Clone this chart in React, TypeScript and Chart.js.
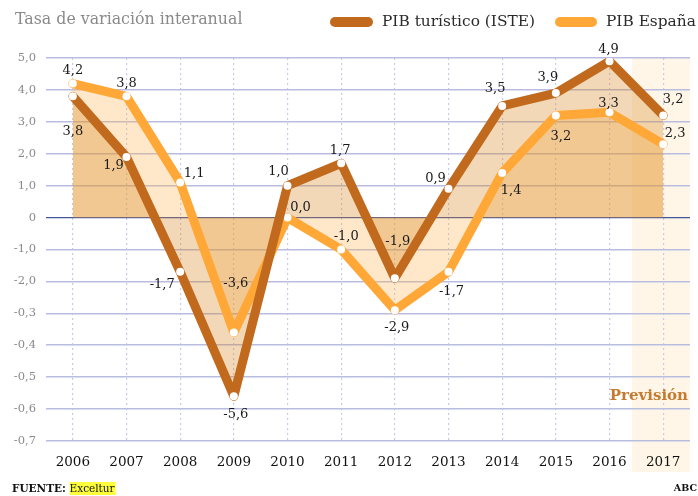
import React, { useEffect, useRef } from "react";
import { Chart, registerables } from "chart.js";

Chart.register(...registerables);

const years = ["2006", "2007", "2008", "2009", "2010", "2011", "2012", "2013", "2014", "2015", "2016", "2017"];
const pibTuristico = [3.8, 1.9, -1.7, -5.6, 1.0, 1.7, -1.9, 0.9, 3.5, 3.9, 4.9, 3.2];
const pibEspana = [4.2, 3.8, 1.1, -3.6, 0.0, -1.0, -2.9, -1.7, 1.4, 3.2, 3.3, 2.3];
const yTickValues = [5, 4, 3, 2, 1, 0, -1, -2, -3, -4, -5, -6, -7];
const yTickLabels = ["5,0", "4,0", "3,0", "2,0", "1,0", "0", "-1,0", "-2,0", "-0,3", "-0,4", "-0,5", "-0,6", "-0,7"];

// label placement offsets (dx, dy) in px, relative to each point
const turLabelOffsets = [[0, 35], [-13, 9], [-18, 13], [2, 18], [-9, -14], [-1, -13], [3, -37], [-13, -10], [-7, -17], [-8, -15], [-1, -12], [10, -16]];
const espLabelOffsets = [[0, -13], [0, -13], [14, -9], [2, -49], [13, -10], [5, -13], [2, 17], [3, 20], [9, 18], [5, 21], [-1, -9], [12, -11]];

const SERIF = '"DejaVu Serif", serif';
const DARK = "#c1691c";
const ORANGE = "#ffa838";

const fmt = (v: number) => v.toFixed(1).replace(".", ",");

const decorPlugin = {
  id: "decor",
  beforeDraw(chart: any) {
    const { ctx, chartArea, scales } = chart;
    const x = scales.x;
    const cx = x.getPixelForValue(years.length - 1);
    ctx.save();
    ctx.fillStyle = "#fff6e8";
    ctx.fillRect(cx - 31, chartArea.top, chartArea.right - (cx - 31), 472 - chartArea.top);
    ctx.restore();
  },
  afterDatasetsDraw(chart: any) {
    const { ctx } = chart;
    ctx.save();
    ctx.font = `13px ${SERIF}`;
    ctx.fillStyle = "#1a1a1a";
    ctx.textAlign = "center";
    ctx.textBaseline = "middle";
    const m0 = chart.getDatasetMeta(0);
    const m1 = chart.getDatasetMeta(1);
    pibTuristico.forEach((v, i) => {
      const p = m0.data[i];
      ctx.fillText(fmt(v), p.x + turLabelOffsets[i][0], p.y + turLabelOffsets[i][1]);
    });
    pibEspana.forEach((v, i) => {
      const p = m1.data[i];
      ctx.fillText(fmt(v), p.x + espLabelOffsets[i][0], p.y + espLabelOffsets[i][1]);
    });
    ctx.restore();
  },
  afterDraw(chart: any) {
    const { ctx, chartArea } = chart;
    ctx.save();
    // title
    ctx.font = `15.8px ${SERIF}`;
    ctx.fillStyle = "#8a8a8a";
    ctx.textAlign = "left";
    ctx.textBaseline = "middle";
    ctx.fillText("Tasa de variación interanual", 15, 20);
    // legend
    const items = [
      { label: "PIB turístico (ISTE)", color: DARK, x0: 330, x1: 373, tx: 382 },
      { label: "PIB España", color: ORANGE, x0: 555, x1: 597, tx: 606 },
    ];
    items.forEach((it) => {
      ctx.strokeStyle = it.color;
      ctx.lineWidth = 10;
      ctx.lineCap = "round";
      ctx.beginPath();
      ctx.moveTo(it.x0 + 5, 22);
      ctx.lineTo(it.x1 - 5, 22);
      ctx.stroke();
      ctx.font = `15.4px ${SERIF}`;
      ctx.fillStyle = "#2a2a2a";
      ctx.fillText(it.label, it.tx, 22);
    });
    // Previsión
    ctx.font = `bold 15px ${SERIF}`;
    ctx.fillStyle = "#c47a30";
    ctx.textAlign = "right";
    ctx.fillText("Previsión", chartArea.right - 2, 396);
    // footer
    ctx.textAlign = "left";
    ctx.font = `bold 10.5px ${SERIF}`;
    ctx.fillStyle = "#111";
    const f = "FUENTE: ";
    ctx.fillText(f, 12, 489);
    const fw = ctx.measureText(f).width;
    ctx.font = `10.5px ${SERIF}`;
    const ew = ctx.measureText("Exceltur").width;
    ctx.fillStyle = "#ffff3a";
    ctx.fillRect(12 + fw, 482, ew + 1, 13);
    ctx.fillStyle = "#111";
    ctx.fillText("Exceltur", 12 + fw, 489);
    ctx.textAlign = "right";
    ctx.font = `bold 9.5px ${SERIF}`;
    ctx.fillText("ABC", 697, 489);
    ctx.restore();
  },
};

export default function App() {
  const ref = useRef<HTMLCanvasElement | null>(null);
  useEffect(() => {
    if (!ref.current) return;
    const chart = new Chart(ref.current, {
      type: "line",
      data: {
        labels: years,
        datasets: [
          {
            label: "PIB turístico (ISTE)",
            data: pibTuristico,
            borderColor: DARK,
            backgroundColor: "rgba(212,125,18,0.3)",
            borderWidth: 9,
            fill: "origin",
            tension: 0,
            borderJoinStyle: "round",
            borderCapStyle: "round",
            pointRadius: 4,
            pointBorderWidth: 0,
            pointBackgroundColor: "#ffffff",
            pointHoverRadius: 4,
          },
          {
            label: "PIB España",
            data: pibEspana,
            borderColor: ORANGE,
            backgroundColor: "rgba(252,178,75,0.3)",
            borderWidth: 9,
            fill: "origin",
            tension: 0,
            borderJoinStyle: "round",
            borderCapStyle: "round",
            pointRadius: 4,
            pointBorderWidth: 0,
            pointBackgroundColor: "#ffffff",
            pointHoverRadius: 4,
          },
        ],
      },
      options: {
        responsive: false,
        animation: false,
        events: [],
        layout: { padding: { top: 58, right: 8, left: 0, bottom: 0 } },
        plugins: {
          legend: { display: false },
          title: { display: false },
          tooltip: { enabled: false },
          filler: { drawTime: "beforeDatasetsDraw" },
        } as any,
        scales: {
          x: {
            offset: true,
            grid: {
              offset: false,
              drawTicks: false,
              color: "#c9c9ea",
              lineWidth: 1.2,
              tickBorderDash: [2, 3],
            } as any,
            border: { display: false, dash: [2, 3] } as any,
            ticks: { color: "#111", font: { family: SERIF, size: 13.5 }, padding: 13, maxRotation: 0 },
            afterFit: (s: any) => {
              s.height = 55;
            },
          },
          y: {
            min: -7,
            max: 5,
            afterBuildTicks: (s: any) => {
              s.ticks = yTickValues.map((v) => ({ value: v }));
            },
            grid: {
              drawTicks: false,
              color: (c: any) => (c.tick && c.tick.value === 0 ? "#46549a" : "#b9bde0"),
              lineWidth: (c: any) => (c.tick && c.tick.value === 0 ? 1.3 : 1.6),
            },
            border: { display: false },
            ticks: {
              color: "#8a8a8a",
              font: { family: SERIF, size: 11.5 },
              padding: 10,
              callback: (v: any) => {
                const i = yTickValues.indexOf(Number(v));
                return i >= 0 ? yTickLabels[i] : "";
              },
            },
            afterFit: (s: any) => {
              s.width = 46;
            },
          },
        },
      },
      plugins: [decorPlugin],
    });
    return () => chart.destroy();
  }, []);
  return (
    <div style={{ position: "absolute", left: 0, top: 0, width: 698, height: 496, background: "#fff" }}>
      <canvas ref={ref} width={698} height={496} style={{ display: "block" }} />
    </div>
  );
}
